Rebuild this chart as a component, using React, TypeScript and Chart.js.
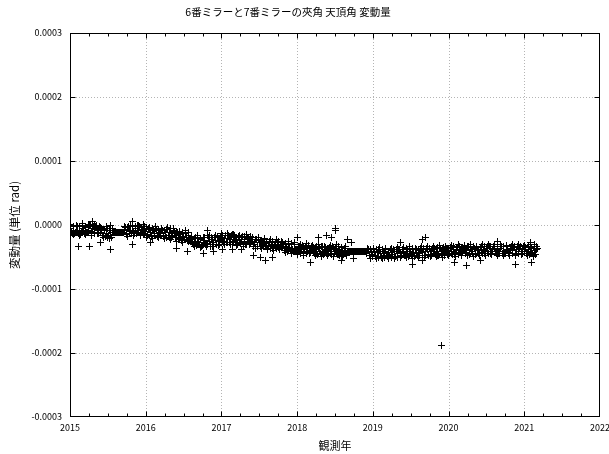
import React, { useEffect, useRef } from "react";
import { Chart, registerables } from "chart.js";

Chart.register(...registerables);

const TITLE = "6番ミラーと7番ミラーの夾角 天頂角 変動量";
const X_TITLE = "観測年";
const Y_TITLE = "変動量 (単位 rad)";

const X_MIN = 2015;
const X_MAX = 2022;
const Y_MIN = -0.0003;
const Y_MAX = 0.0003;
const Y_STEP = 0.0001;

// observation time (decimal year), first part of the samples
const obsYear = [
  2015.00, 2015.02, 2015.04, 2015.06, 2015.08, 2015.10, 2015.12, 2015.14, 2015.16, 2015.18,
  2015.20, 2015.22, 2015.24, 2015.26, 2015.28, 2015.30, 2015.32, 2015.34, 2015.36, 2015.38,
  2015.40, 2015.42, 2015.44, 2015.46, 2015.48, 2015.50, 2015.52, 2015.54, 2015.56, 2015.58,
  2015.60, 2015.62, 2015.64, 2015.66, 2015.68, 2015.70, 2015.72, 2015.74, 2015.76, 2015.78,
  2015.80, 2015.82, 2015.84, 2015.86, 2015.88, 2015.90, 2015.92, 2015.94, 2015.96, 2015.98,
  2016.00, 2016.02, 2016.04, 2016.06, 2016.08, 2016.10, 2016.12, 2016.14, 2016.16, 2016.18,
  2016.20, 2016.22, 2016.24, 2016.26, 2016.28, 2016.30, 2016.32, 2016.34, 2016.36, 2016.38,
  2016.40, 2016.42, 2016.44, 2016.46, 2016.48, 2016.50, 2016.52, 2016.54, 2016.56, 2016.58,
  2016.60, 2016.62, 2016.64, 2016.66, 2016.68, 2016.70, 2016.72, 2016.74, 2016.76, 2016.78,
  2016.80, 2016.82, 2016.84, 2016.86, 2016.88, 2016.90, 2016.92, 2016.94, 2016.96, 2016.98,
  2017.00, 2017.02, 2017.04, 2017.06, 2017.08, 2017.10, 2017.12, 2017.14, 2017.16, 2017.18,
  2017.20, 2017.22, 2017.24, 2017.26, 2017.28, 2017.30, 2017.32, 2017.34, 2017.36, 2017.38,
  2017.40, 2017.42, 2017.44, 2017.46, 2017.48, 2017.50, 2017.52, 2017.54, 2017.56, 2017.58,
  2017.60, 2017.62, 2017.64, 2017.66, 2017.68, 2017.70, 2017.72, 2017.74, 2017.76, 2017.78,
  2017.80, 2017.82, 2017.84, 2017.86, 2017.88, 2017.90, 2017.92, 2017.94, 2017.96, 2017.98,
  2018.00, 2018.02, 2018.04, 2018.06, 2018.08, 2018.10, 2018.12, 2018.14, 2018.16, 2018.18,
  2018.20, 2018.22, 2018.24, 2018.26, 2018.28, 2018.30, 2018.32, 2018.34, 2018.36, 2018.38,
  2018.40, 2018.42, 2018.44, 2018.46, 2018.48, 2018.50, 2018.52, 2018.54, 2018.56, 2018.58,
  2018.60, 2018.62, 2018.64, 2018.66, 2018.68, 2018.70, 2018.72, 2018.74, 2018.76, 2018.78,
  2018.80, 2018.82, 2018.84, 2018.86, 2018.88, 2018.90, 2018.92, 2018.94, 2018.96, 2018.98,
  2019.00, 2019.02, 2019.04, 2019.06, 2019.08, 2019.10, 2019.12, 2019.14, 2019.16, 2019.18,
  2019.20, 2019.22, 2019.24, 2019.26, 2019.28, 2019.30, 2019.32, 2019.34, 2019.36, 2019.38,
  2019.40, 2019.42, 2019.44, 2019.46, 2019.48, 2019.50, 2019.52, 2019.54, 2019.56, 2019.58,
  2019.60, 2019.62, 2019.64, 2019.66, 2019.68, 2019.70, 2019.72, 2019.74, 2019.76, 2019.78,
  2019.80, 2019.82, 2019.84, 2019.86, 2019.88, 2019.90, 2019.92, 2019.94, 2019.96, 2019.98,
  2020.00, 2020.02, 2020.04, 2020.06, 2020.08, 2020.10, 2020.12, 2020.14, 2020.16, 2020.18,
  2020.20, 2020.22, 2020.24, 2020.26, 2020.28, 2020.30, 2020.32, 2020.34, 2020.36, 2020.38,
  2020.40, 2020.42, 2020.44, 2020.46, 2020.48, 2020.50, 2020.52, 2020.54, 2020.56, 2020.58,
  2020.60, 2020.62, 2020.64, 2020.66, 2020.68, 2020.70, 2020.72, 2020.74, 2020.76, 2020.78,
  2020.80, 2020.82, 2020.84, 2020.86, 2020.88, 2020.90, 2020.92, 2020.94, 2020.96, 2020.98,
  2021.00, 2021.02, 2021.04, 2021.06, 2021.08, 2021.10, 2021.12, 2021.14, 2021.16,
];

// variation (micro-radians) at obsYear
const deltaMicroRad = [
  -6, -11, -3, -13, -8, -2, -10, -15, -5, -9,
  -4, -12, -8, -1, -10, -6, -14, -3, -9, -7,
  -12, -5, -17, -9, -14, -20, -8, -16, -11, -11,
  -11, -12, -11, -11, -12, -11, -7, -13, -4, -10,
  -8, -3, -12, -6, -14, -9, -2, -11, -7, -13,
  -10, -15, -6, -12, -17, -9, -13, -7, -16, -11,
  -14, -9, -18, -12, -7, -16, -11, -19, -13, -10,
  -17, -12, -21, -15, -23, -18, -13, -20, -16, -24,
  -22, -29, -25, -20, -31, -27, -23, -33, -28, -24,
  -29, -16, -25, -33, -22, -28, -20, -31, -26, -24,
  -19, -25, -21, -17, -27, -23, -20, -15, -26, -22,
  -24, -20, -28, -22, -18, -26, -30, -23, -21, -27,
  -25, -31, -27, -22, -33, -28, -24, -30, -26, -32,
  -29, -34, -27, -31, -36, -30, -33, -28, -35, -32,
  -34, -30, -37, -33, -39, -35, -31, -38, -36, -40,
  -38, -34, -41, -36, -43, -39, -35, -42, -37, -40,
  -36, -42, -39, -45, -37, -41, -34, -43, -38, -40,
  -41, -37, -44, -39, -35, -42, -40, -46, -38, -43,
  -44, -40, -42, -41, -41, -42, -41, -41, -42, -41,
  -41, -42, -41, -41, -42, -41, -45, -39, -47, -43,
  -46, -41, -48, -43, -39, -45, -50, -44, -41, -47,
  -43, -48, -40, -46, -42, -49, -44, -38, -45, -47,
  -42, -47, -44, -39, -46, -41, -49, -43, -37, -45,
  -40, -45, -36, -43, -48, -41, -38, -46, -42, -39,
  -44, -38, -42, -47, -36, -41, -45, -39, -43, -37,
  -41, -36, -44, -39, -46, -40, -35, -43, -38, -42,
  -37, -43, -40, -34, -45, -39, -42, -36, -44, -38,
  -40, -35, -43, -38, -45, -37, -41, -34, -44, -39,
  -36, -42, -39, -45, -37, -33, -41, -44, -38, -40,
  -43, -37, -40, -35, -46, -39, -42, -36, -44, -38,
  -41, -35, -45, -38, -43, -36, -47, -40, -39,
];

// observation time (decimal year), second part of the samples
const obsYear2 = [
  2015.01, 2015.03, 2015.05, 2015.07, 2015.09, 2015.11, 2015.13, 2015.15, 2015.17, 2015.19,
  2015.21, 2015.23, 2015.25, 2015.27, 2015.29, 2015.31, 2015.33, 2015.35, 2015.37, 2015.39,
  2015.41, 2015.43, 2015.45, 2015.47, 2015.49, 2015.51, 2015.53, 2015.55, 2015.57, 2015.59,
  2015.61, 2015.63, 2015.65, 2015.67, 2015.69, 2015.71, 2015.73, 2015.75, 2015.77, 2015.79,
  2015.81, 2015.83, 2015.85, 2015.87, 2015.89, 2015.91, 2015.93, 2015.95, 2015.97, 2015.99,
  2016.01, 2016.03, 2016.05, 2016.07, 2016.09, 2016.11, 2016.13, 2016.15, 2016.17, 2016.19,
  2016.21, 2016.23, 2016.25, 2016.27, 2016.29, 2016.31, 2016.33, 2016.35, 2016.37, 2016.39,
  2016.41, 2016.43, 2016.45, 2016.47, 2016.49, 2016.51, 2016.53, 2016.55, 2016.57, 2016.59,
  2016.61, 2016.63, 2016.65, 2016.67, 2016.69, 2016.71, 2016.73, 2016.75, 2016.77, 2016.79,
  2016.81, 2016.83, 2016.85, 2016.87, 2016.89, 2016.91, 2016.93, 2016.95, 2016.97, 2016.99,
  2017.01, 2017.03, 2017.05, 2017.07, 2017.09, 2017.11, 2017.13, 2017.15, 2017.17, 2017.19,
  2017.21, 2017.23, 2017.25, 2017.27, 2017.29, 2017.31, 2017.33, 2017.35, 2017.37, 2017.39,
  2017.41, 2017.43, 2017.45, 2017.47, 2017.49, 2017.51, 2017.53, 2017.55, 2017.57, 2017.59,
  2017.61, 2017.63, 2017.65, 2017.67, 2017.69, 2017.71, 2017.73, 2017.75, 2017.77, 2017.79,
  2017.81, 2017.83, 2017.85, 2017.87, 2017.89, 2017.91, 2017.93, 2017.95, 2017.97, 2017.99,
  2018.01, 2018.03, 2018.05, 2018.07, 2018.09, 2018.11, 2018.13, 2018.15, 2018.17, 2018.19,
  2018.21, 2018.23, 2018.25, 2018.27, 2018.29, 2018.31, 2018.33, 2018.35, 2018.37, 2018.39,
  2018.41, 2018.43, 2018.45, 2018.47, 2018.49, 2018.51, 2018.53, 2018.55, 2018.57, 2018.59,
  2018.61, 2018.63, 2018.65, 2018.67, 2018.69, 2018.71, 2018.73, 2018.75, 2018.77, 2018.79,
  2018.81, 2018.83, 2018.85, 2018.87, 2018.89, 2018.91, 2018.93, 2018.95, 2018.97, 2018.99,
  2019.01, 2019.03, 2019.05, 2019.07, 2019.09, 2019.11, 2019.13, 2019.15, 2019.17, 2019.19,
  2019.21, 2019.23, 2019.25, 2019.27, 2019.29, 2019.31, 2019.33, 2019.35, 2019.37, 2019.39,
  2019.41, 2019.43, 2019.45, 2019.47, 2019.49, 2019.51, 2019.53, 2019.55, 2019.57, 2019.59,
  2019.61, 2019.63, 2019.65, 2019.67, 2019.69, 2019.71, 2019.73, 2019.75, 2019.77, 2019.79,
  2019.81, 2019.83, 2019.85, 2019.87, 2019.89, 2019.91, 2019.93, 2019.95, 2019.97, 2019.99,
  2020.01, 2020.03, 2020.05, 2020.07, 2020.09, 2020.11, 2020.13, 2020.15, 2020.17, 2020.19,
  2020.21, 2020.23, 2020.25, 2020.27, 2020.29, 2020.31, 2020.33, 2020.35, 2020.37, 2020.39,
  2020.41, 2020.43, 2020.45, 2020.47, 2020.49, 2020.51, 2020.53, 2020.55, 2020.57, 2020.59,
  2020.61, 2020.63, 2020.65, 2020.67, 2020.69, 2020.71, 2020.73, 2020.75, 2020.77, 2020.79,
  2020.81, 2020.83, 2020.85, 2020.87, 2020.89, 2020.91, 2020.93, 2020.95, 2020.97, 2020.99,
  2021.01, 2021.03, 2021.05, 2021.07, 2021.09, 2021.11, 2021.13, 2021.15, 2021.17,
];

// variation (micro-radians) at obsYear2
const deltaMicroRad2 = [
  -1, -13, -2, -12, 0, -14, -3, -11, -1, -13,
  -2, -12, -11, -1, -13, -3, -12, 0, -14, -2,
  -6, -17, -7, -18, -5, -16, -8, -19, -12, -11,
  -11, -11, -12, -11, -11, -12, -4, -15, -3, -14,
  -13, -2, -14, -3, -12, -1, -15, -4, -13, -2,
  -6, -17, -7, -18, -6, -16, -5, -18, -8, -17,
  -7, -18, -8, -19, -7, -19, -6, -18, -9, -19,
  -12, -23, -13, -24, -11, -23, -13, -24, -12, -23,
  -20, -31, -21, -32, -19, -31, -21, -32, -20, -31,
  -31, -19, -30, -20, -31, -19, -30, -18, -31, -20,
  -16, -27, -17, -28, -16, -27, -17, -28, -16, -27,
  -30, -18, -29, -19, -30, -18, -31, -19, -29, -18,
  -22, -33, -23, -34, -22, -33, -24, -34, -22, -33,
  -36, -26, -37, -25, -36, -27, -37, -25, -36, -26,
  -30, -40, -29, -41, -30, -40, -29, -41, -30, -40,
  -43, -33, -44, -32, -43, -34, -44, -32, -43, -33,
  -35, -45, -34, -46, -35, -45, -34, -46, -35, -45,
  -45, -35, -46, -34, -45, -36, -46, -34, -45, -35,
  -46, -37, -47, -41, -41, -42, -41, -41, -42, -41,
  -41, -41, -42, -41, -41, -42, -39, -48, -38, -49,
  -39, -49, -38, -50, -39, -49, -38, -50, -39, -49,
  -49, -39, -50, -38, -49, -39, -50, -38, -49, -39,
  -38, -48, -37, -49, -38, -48, -37, -49, -38, -48,
  -47, -37, -48, -36, -47, -37, -48, -36, -47, -37,
  -36, -46, -35, -47, -36, -46, -35, -47, -36, -46,
  -45, -35, -46, -34, -45, -35, -46, -34, -45, -35,
  -35, -45, -34, -46, -35, -45, -34, -46, -35, -45,
  -44, -34, -45, -33, -44, -34, -45, -33, -44, -34,
  -34, -44, -33, -45, -34, -44, -33, -45, -34, -44,
  -44, -34, -45, -33, -44, -34, -45, -33, -44, -34,
  -35, -45, -34, -46, -35, -45, -34, -46, -36,
];

// observation time (decimal year), third part of the samples
const obsYear3 = [
  2015.005, 2015.045, 2015.085, 2015.125, 2015.165,
  2015.205, 2015.245, 2015.285, 2015.325, 2015.365,
  2015.405, 2015.445, 2015.485, 2015.525, 2015.565,
  2015.605, 2015.645, 2015.685, 2015.725, 2015.765,
  2015.805, 2015.845, 2015.885, 2015.925, 2015.965,
  2016.005, 2016.045, 2016.085, 2016.125, 2016.165,
  2016.205, 2016.245, 2016.285, 2016.325, 2016.365,
  2016.405, 2016.445, 2016.485, 2016.525, 2016.565,
  2016.605, 2016.645, 2016.685, 2016.725, 2016.765,
  2016.805, 2016.845, 2016.885, 2016.925, 2016.965,
  2017.005, 2017.045, 2017.085, 2017.125, 2017.165,
  2017.205, 2017.245, 2017.285, 2017.325, 2017.365,
  2017.405, 2017.445, 2017.485, 2017.525, 2017.565,
  2017.605, 2017.645, 2017.685, 2017.725, 2017.765,
  2017.805, 2017.845, 2017.885, 2017.925, 2017.965,
  2018.005, 2018.045, 2018.085, 2018.125, 2018.165,
  2018.205, 2018.245, 2018.285, 2018.325, 2018.365,
  2018.405, 2018.445, 2018.485, 2018.525, 2018.565,
  2018.605, 2018.645, 2018.685, 2018.725, 2018.765,
  2018.805, 2018.845, 2018.885, 2018.925, 2018.965,
  2019.005, 2019.045, 2019.085, 2019.125, 2019.165,
  2019.205, 2019.245, 2019.285, 2019.325, 2019.365,
  2019.405, 2019.445, 2019.485, 2019.525, 2019.565,
  2019.605, 2019.645, 2019.685, 2019.725, 2019.765,
  2019.805, 2019.845, 2019.885, 2019.925, 2019.965,
  2020.005, 2020.045, 2020.085, 2020.125, 2020.165,
  2020.205, 2020.245, 2020.285, 2020.325, 2020.365,
  2020.405, 2020.445, 2020.485, 2020.525, 2020.565,
  2020.605, 2020.645, 2020.685, 2020.725, 2020.765,
  2020.805, 2020.845, 2020.885, 2020.925, 2020.965,
  2021.005, 2021.045, 2021.085, 2021.125, 2021.165,
];

// variation (micro-radians) at obsYear3
const deltaMicroRad3 = [
  1, -15, 0, -16, 2,
  -15, 1, -16, -1, -14,
  -4, -20, -3, -21, -5,
  -11, -12, -11, -2, -18,
  0, -16, -1, -17, 1,
  -20, -4, -21, -3, -19,
  -5, -21, -4, -22, -6,
  -26, -10, -27, -9, -25,
  -18, -34, -17, -35, -19,
  -33, -17, -34, -16, -32,
  -14, -30, -13, -31, -15,
  -32, -16, -33, -15, -31,
  -20, -36, -19, -37, -21,
  -39, -23, -40, -22, -38,
  -27, -43, -26, -44, -28,
  -46, -30, -47, -29, -45,
  -32, -48, -31, -49, -33,
  -48, -32, -49, -31, -47,
  -49, -33, -41, -42, -41,
  -41, -42, -41, -36, -52,
  -36, -52, -35, -53, -37,
  -52, -36, -53, -35, -51,
  -35, -51, -34, -52, -36,
  -50, -34, -51, -33, -49,
  -33, -49, -32, -50, -34,
  -48, -32, -49, -31, -47,
  -32, -48, -31, -49, -33,
  -47, -31, -48, -30, -46,
  -31, -47, -30, -48, -32,
  -47, -31, -48, -30, -46,
  -32, -48, -31, -49, -33,
];

// scattered points away from the main band
const outlierYear = [
  2015.11, 2015.26, 2015.40, 2015.53, 2015.83, 2016.06, 2015.30, 2015.82, 2015.53,
  2016.41, 2016.55, 2016.76, 2016.89, 2016.82, 2017.02, 2017.15, 2017.27, 2017.42, 2017.51, 2017.58, 2017.68,
  2018.00, 2018.17, 2018.28, 2018.39, 2018.50, 2018.51, 2018.45,
  2018.59, 2018.67, 2018.72, 2018.74, 2019.36, 2019.52, 2019.66, 2019.69, 2019.65,
  2019.91,
  2020.24, 2020.08, 2020.42, 2020.64, 2020.88, 2021.08, 2021.10, 2021.14,
];
const outlierMicroRad = [
  -33, -33, -27, -39, -30, -28, 5, 5, 0,
  -36, -41, -44, -42, -8, -39, -39, -39, -47, -50, -55, -50,
  -20, -58, -20, -16, -6, -9, -20,
  -55, -23, -27, -52, -28, -62, -55, -19, -23,
  -189,
  -64, -58, -55, -26, -61, -27, -58, -30,
];

const JP_FONT = '"Noto Sans CJK JP", "Noto Sans", sans-serif';

// crisp 1px "+" marker, like gnuplot's point type 1
function makeCrossMarker(): HTMLCanvasElement {
  const c = document.createElement("canvas");
  c.width = 7;
  c.height = 7;
  const g = c.getContext("2d")!;
  g.fillStyle = "#000";
  g.fillRect(3, 0, 1, 7);
  g.fillRect(0, 3, 7, 1);
  return c;
}

const framePlugin = {
  id: "gnuplotFrame",
  beforeDatasetsDraw(chart: any) {
    const { ctx, chartArea: a, scales } = chart;
    const xs = scales.x;
    const ys = scales.y;
    ctx.save();
    ctx.strokeStyle = "#b4b4b4";
    ctx.lineWidth = 1;
    ctx.setLineDash([1, 2]);
    for (let v = X_MIN + 1; v < X_MAX; v++) {
      const px = Math.round(xs.getPixelForValue(v)) + 0.5;
      ctx.beginPath();
      ctx.moveTo(px, a.top);
      ctx.lineTo(px, a.bottom);
      ctx.stroke();
    }
    for (let i = 1; i < 6; i++) {
      const v = Y_MIN + i * Y_STEP;
      const py = Math.round(ys.getPixelForValue(v)) + 0.5;
      ctx.beginPath();
      ctx.moveTo(a.left, py);
      ctx.lineTo(a.right, py);
      ctx.stroke();
    }
    ctx.restore();
    ctx.imageSmoothingEnabled = false;
  },
  afterDatasetsDraw(chart: any) {
    chart.ctx.imageSmoothingEnabled = true;
  },
  afterDraw(chart: any) {
    const { ctx, chartArea: a, scales } = chart;
    const xs = scales.x;
    const ys = scales.y;
    ctx.save();
    ctx.setLineDash([]);
    ctx.strokeStyle = "#000";
    ctx.lineWidth = 1;
    const l = Math.round(a.left) + 0.5;
    const r = Math.round(a.right) - 0.5;
    const t = Math.round(a.top) + 0.5;
    const b = Math.round(a.bottom) - 0.5;
    ctx.strokeRect(l, t, r - l, b - t);
    ctx.beginPath();
    for (let i = 1; i < 28; i++) {
      const v = X_MIN + i * 0.25;
      const px = Math.round(xs.getPixelForValue(v)) + 0.5;
      const len = i % 4 === 0 ? 5 : 3;
      ctx.moveTo(px, b);
      ctx.lineTo(px, b - len);
      ctx.moveTo(px, t);
      ctx.lineTo(px, t + len);
    }
    for (let i = 1; i < 6; i++) {
      const v = Y_MIN + i * Y_STEP;
      const py = Math.round(ys.getPixelForValue(v)) + 0.5;
      ctx.moveTo(l, py);
      ctx.lineTo(l + 5, py);
      ctx.moveTo(r, py);
      ctx.lineTo(r - 5, py);
    }
    ctx.stroke();

    // chart title, centred where the reference places it
    ctx.fillStyle = "#000";
    ctx.font = `10.5px ${JP_FONT}`;
    ctx.textAlign = "center";
    ctx.textBaseline = "middle";
    ctx.fillText(TITLE, 288, 12);
    ctx.restore();
  },
};

export default function App() {
  const ref = useRef<HTMLCanvasElement>(null);

  useEffect(() => {
    if (!ref.current) return;
    const toPoints = (xs: number[], ys: number[]) => xs.map((x, i) => ({ x, y: ys[i] / 1e6 }));
    const data = [
      ...toPoints(obsYear, deltaMicroRad),
      ...toPoints(obsYear2, deltaMicroRad2),
      ...toPoints(obsYear3, deltaMicroRad3),
      ...toPoints(outlierYear, outlierMicroRad),
    ];
    const marker = makeCrossMarker();
    const chart = new Chart(ref.current, {
      type: "scatter",
      data: {
        datasets: [
          {
            data,
            pointStyle: marker,
            radius: 3.5,
            borderWidth: 1,
            borderColor: "#000",
            backgroundColor: "#000",
          },
        ],
      },
      plugins: [framePlugin],
      options: {
        responsive: false,
        animation: false,
        events: [],
        layout: { padding: { left: 0, right: 9, top: 33, bottom: 0 } },
        plugins: {
          legend: { display: false },
          tooltip: { enabled: false },
          title: { display: false },
        },
        scales: {
          x: {
            type: "linear",
            min: X_MIN,
            max: X_MAX,
            grid: { display: false, drawTicks: false },
            border: { display: false },
            ticks: {
              stepSize: 1,
              color: "#000",
              padding: 5,
              maxRotation: 0,
              font: { family: JP_FONT, size: 9 },
              callback: (v: any) => String(v),
            },
            title: {
              display: true,
              text: X_TITLE,
              color: "#000",
              font: { family: JP_FONT, size: 11 },
              padding: { top: 2, bottom: 2 },
            },
            afterFit: (s: any) => {
              s.height = 37;
              s.paddingLeft = 0;
              s.paddingRight = 0;
            },
          },
          y: {
            type: "linear",
            min: Y_MIN,
            max: Y_MAX,
            grid: { display: false, drawTicks: false },
            border: { display: false },
            ticks: {
              stepSize: Y_STEP,
              color: "#000",
              padding: 8,
              font: { family: JP_FONT, size: 9 },
              callback: (v: any) => Number(v).toFixed(4),
            },
            title: {
              display: true,
              text: Y_TITLE,
              color: "#000",
              font: { family: JP_FONT, size: 11.5 },
              padding: { top: 8, bottom: 8 },
            },
            afterFit: (s: any) => {
              s.width = 70;
              s.paddingTop = 0;
              s.paddingBottom = 0;
            },
          },
        },
      } as any,
    });
    return () => chart.destroy();
  }, []);

  return (
    <div style={{ position: "absolute", left: 0, top: 0, width: 609, height: 454, background: "#fff" }}>
      <canvas ref={ref} width={609} height={454} style={{ display: "block" }} />
    </div>
  );
}
